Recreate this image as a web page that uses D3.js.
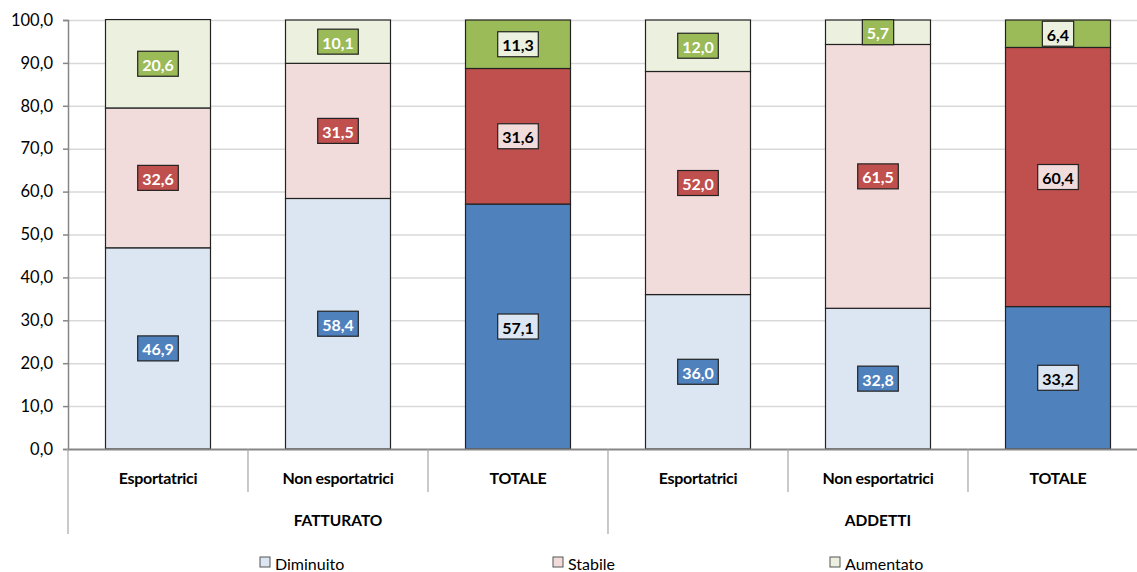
<!DOCTYPE html>
<html><head><meta charset="utf-8">
<script src="https://cdn.jsdelivr.net/npm/d3@7"></script>
<style>body{margin:0;background:#fff}svg{display:block}text{font-family:Lato,"Open Sans",sans-serif}</style>
</head><body><svg id="c" width="1137" height="572"></svg>
<script>
const categories = ["Esportatrici","Non esportatrici","TOTALE","Esportatrici","Non esportatrici","TOTALE"];
const groups = ["FATTURATO","ADDETTI"];
const groupOf = [0,0,0,1,1,1];
const seriesNames = ["Diminuito","Stabile","Aumentato"];
const diminuito = [46.9,58.4,57.1,36.0,32.8,33.2];
const stabile = [32.6,31.5,31.6,52.0,61.5,60.4];
const aumentato = [20.6,10.1,11.3,12.0,5.7,6.4];
const isTotal = [false,false,true,false,false,true];
const yTicks = [0,10,20,30,40,50,60,70,80,90,100];

(function(){
const light = ["#DCE6F2","#F2DCDB","#EBF1DE"];
const dark = ["#4F81BD","#C0504D","#9BBB59"];
const values = [diminuito, stabile, aumentato];

const svg = d3.select("#c");
const pLeft = 68, pRight = 1148, pTop = 20, pBottom = 449;
const x = d3.scaleBand().domain(d3.range(categories.length)).range([pLeft,pRight]).paddingInner(0.4167).paddingOuter(0.20835);
const y = d3.scaleLinear().domain([0,100]).range([pBottom,pTop]);
const fmt = v => v.toFixed(1).replace(".", ",");

// gridlines
svg.append("g").selectAll("line").data(yTicks.filter(t=>t>0)).join("line")
  .attr("x1",pLeft).attr("x2",pRight).attr("y1",d=>y(d)+0.5).attr("y2",d=>y(d)+0.5)
  .attr("stroke","#d9d9d9").attr("stroke-width",1.5);

// y axis
const yAxis = d3.axisLeft(y).tickValues(yTicks).tickFormat(fmt).tickSize(5).tickPadding(10);
const ya = svg.append("g").attr("transform",`translate(${pLeft},0)`).call(yAxis);
ya.select(".domain").attr("stroke","#868686").attr("stroke-width",1.5);
ya.selectAll(".tick line").attr("stroke","#868686").attr("stroke-width",1.5);
ya.selectAll(".tick text").attr("font-size",16.5).attr("fill","#000").style("font-family","Lato");

// stacked bars
const stack = d3.stack().keys([0,1,2]).value((i,k)=>values[k][i]);
const stacked = stack(d3.range(categories.length));
stacked.forEach((layer,k)=>{
  svg.append("g").selectAll("rect").data(layer).join("rect")
    .attr("x",(d,i)=>x(i)).attr("width",x.bandwidth())
    .attr("y",d=>y(d[1])).attr("height",d=>y(d[0])-y(d[1]))
    .attr("fill",(d,i)=>isTotal[i]?dark[k]:light[k])
    .attr("stroke","#222").attr("stroke-width",1.2);
});

// labels
stacked.forEach((layer,k)=>{
  layer.forEach((d,i)=>{
    const cx = x(i)+x.bandwidth()/2, cy = y((d[0]+d[1])/2);
    const g = svg.append("g");
    const rect = g.append("rect");
    const t = g.append("text").attr("x",cx).attr("y",cy+0.5).attr("text-anchor","middle")
      .attr("dominant-baseline","central").attr("font-size",16).attr("font-weight","bold")
      .attr("fill",isTotal[i]?"#000":"#fff").text(fmt(values[k][i]));
    const w = t.node().getComputedTextLength()+9;
    rect.attr("x",cx-w/2).attr("y",cy-12.5).attr("width",w).attr("height",25)
      .attr("fill",isTotal[i]?light[k]:dark[k]).attr("stroke","#222").attr("stroke-width",1.2);
  });
});

// x axis
svg.append("line").attr("x1",pLeft).attr("x2",pRight).attr("y1",pBottom+0.5).attr("y2",pBottom+0.5)
  .attr("stroke","#868686").attr("stroke-width",2);
const seps = d3.range(categories.length+1).map(i=>pLeft+i*x.step());
svg.append("g").selectAll("line").data(seps).join("line")
  .attr("x1",d=>d).attr("x2",d=>d).attr("y1",pBottom)
  .attr("y2",(d,i)=> (i%3===0)?534:492)
  .attr("stroke","#a6a6a6").attr("stroke-width",1.2);
svg.append("g").selectAll("text").data(categories).join("text")
  .attr("x",(d,i)=>x(i)+x.bandwidth()/2).attr("y",477).attr("text-anchor","middle")
  .attr("dominant-baseline","central").attr("font-size",16).attr("font-weight","bold")
  .attr("letter-spacing",-0.3).text(d=>d);
svg.append("g").selectAll("text").data(groups).join("text")
  .attr("x",(d,gi)=>{const idx=d3.range(categories.length).filter(i=>groupOf[i]===gi);return (x(idx[0])+x(idx[idx.length-1])+x.bandwidth())/2;})
  .attr("y",520).attr("text-anchor","middle").attr("dominant-baseline","central")
  .attr("font-size",15.5).attr("font-weight","bold").text(d=>d);

// legend
const legX = [260,553,830];
seriesNames.forEach((n,k)=>{
  svg.append("rect").attr("x",legX[k]).attr("y",557).attr("width",10).attr("height",10)
    .attr("fill",light[k]).attr("stroke","#555").attr("stroke-width",1);
  svg.append("text").attr("x",legX[k]+15).attr("y",563).attr("dominant-baseline","central")
    .attr("font-size",16).text(n);
});
})();
</script></body></html>
